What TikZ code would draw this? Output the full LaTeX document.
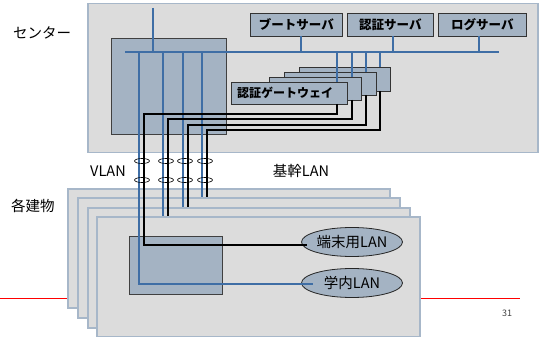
\documentclass[tikz,border=0pt]{standalone}
\usepackage{fontspec}
\setmainfont{Noto Sans CJK JP}
\usetikzlibrary{shapes.geometric}
\definecolor{bg}{HTML}{DCDCDC}
\definecolor{frame}{HTML}{A7B7C9}
\definecolor{sw}{HTML}{A4B3C3}
\definecolor{ln}{HTML}{3F6EA5}
\definecolor{pg}{HTML}{404040}
\tikzset{
 box/.style={draw=frame, fill=bg, line width=1.5pt},
 swbox/.style={draw=black!75, fill=sw, line width=0.8pt},
 srv/.style={draw=black!80, fill=sw, line width=0.8pt, font=\bfseries\fontsize{12.5}{14}\selectfont},
 bl/.style={draw=ln, line width=1.6pt},
 bk/.style={draw=black, line width=1.6pt},
 lab/.style={font=\fontsize{14.5}{16}\selectfont, inner sep=0},
 tie/.style={ellipse, draw=black, line width=0.6pt, minimum width=15pt, minimum height=5pt, inner sep=0},
 lanell/.style={ellipse, draw=black!85, fill=sw, line width=0.8pt, minimum width=101pt, minimum height=29pt, inner sep=0}
}
\newcommand\rnode[6]{\node[#2, anchor=north west, inner sep=0, minimum width={(#5-#3)*1pt}, minimum height={(#6-#4)*1pt}] (#1) at (#3,#4) {};}
\begin{document}
\begin{tikzpicture}[x=1pt,y=-1pt]
\useasboundingbox (0,0) rectangle (539,337);
% red footer line
\coordinate (rl) at (0,298); \coordinate (rr) at (520,298);
\draw[red, line width=0.7pt] (rl) -- (rr);
\node[font=\fontsize{9}{10}\selectfont, text=pg] (pno) at (507,313) {31};
% center
\rnode{center}{box}{87}{3}{537}{152}
\rnode{csw}{swbox}{111}{38}{226}{134}
\coordinate (busl) at (125,52); \coordinate (busr) at (499,52);
\coordinate (up) at (153,8);
% servers
\rnode{boot}{srv}{250}{13}{342}{36}
\rnode{auth}{srv}{347}{13}{433}{36}
\rnode{log}{srv}{438}{13}{526}{36}
\node[font=\bfseries\fontsize{12.5}{14}\selectfont, inner sep=0] at (boot.center) {ブートサーバ};
\node[font=\bfseries\fontsize{12.5}{14}\selectfont, inner sep=0] at (auth.center) {認証サーバ};
\node[font=\bfseries\fontsize{12.5}{14}\selectfont, inner sep=0] at (log.center) {ログサーバ};
% gateways
\rnode{g4}{srv}{299}{67}{390}{91}
\rnode{g3}{srv}{284}{72}{376}{95}
\rnode{g2}{srv}{269}{77}{361}{100}
\rnode{g1}{srv}{231}{82}{347}{104}
\node[font=\bfseries\fontsize{12}{14}\selectfont, inner sep=0, anchor=west] at (237,93) {認証ゲートウェイ};
% bus
\draw[bl] (up) -- (153,52);
\draw[bl] (busl) -- (busr);
\draw[bl] (301,36) -- (301,52);
\draw[bl] (393,36) -- (393,52);
\draw[bl] (479,36) -- (479,52);
\draw[bl] (337,52) -- (337,82);
\draw[bl] (352,52) -- (352,77);
\draw[bl] (366,52) -- (366,72);
\draw[bl] (380,52) -- (380,67);
% buildings
\rnode{b1}{box}{67}{188}{389}{307}
\rnode{b2}{box}{77}{197}{399}{317}
\rnode{b3}{box}{87}{207}{409}{327}
\rnode{b4}{box}{96}{216}{419}{336}
\rnode{bsw}{swbox}{129}{236}{222}{294}
\node[lanell] (term) at (352,242) {};
\node[lanell] (campus) at (352,283) {};
% trunk lines
\draw[bl] (139,52) -- (139,284) -- (313,284);
\draw[bl] (163,52) -- (163,216);
\draw[bl] (183,52) -- (183,207);
\draw[bl] (202,52) -- (202,197);
\draw[bk] (337,104) -- (337,114) -- (144,114) -- (144,245) -- (307,245);
\draw[bk] (352,100) -- (352,119) -- (168,119) -- (168,216);
\draw[bk] (366,95) -- (366,125) -- (188,125) -- (188,207);
\draw[bk] (380,91) -- (380,130) -- (207,130) -- (207,197);
\node[font=\fontsize{14.5}{16}\selectfont, inner sep=0] at (term.center) {端末用LAN};
\node[font=\fontsize{14.5}{16}\selectfont, inner sep=0] at (campus.center) {学内LAN};
% ties
\foreach \x/\n in {142/a,166/b,185/c,205/d}{
  \node[tie] (t1\n) at (\x,161) {};
  \node[tie] (t2\n) at (\x,180) {};
}
% labels
\node[lab] (lc) at (42,33) {センター};
\node[lab] (lv) at (108,171) {VLAN};
\node[lab] (lk) at (301,171) {基幹LAN};
\node[lab] (lb) at (33,206) {各建物};
\end{tikzpicture}
\end{document}
